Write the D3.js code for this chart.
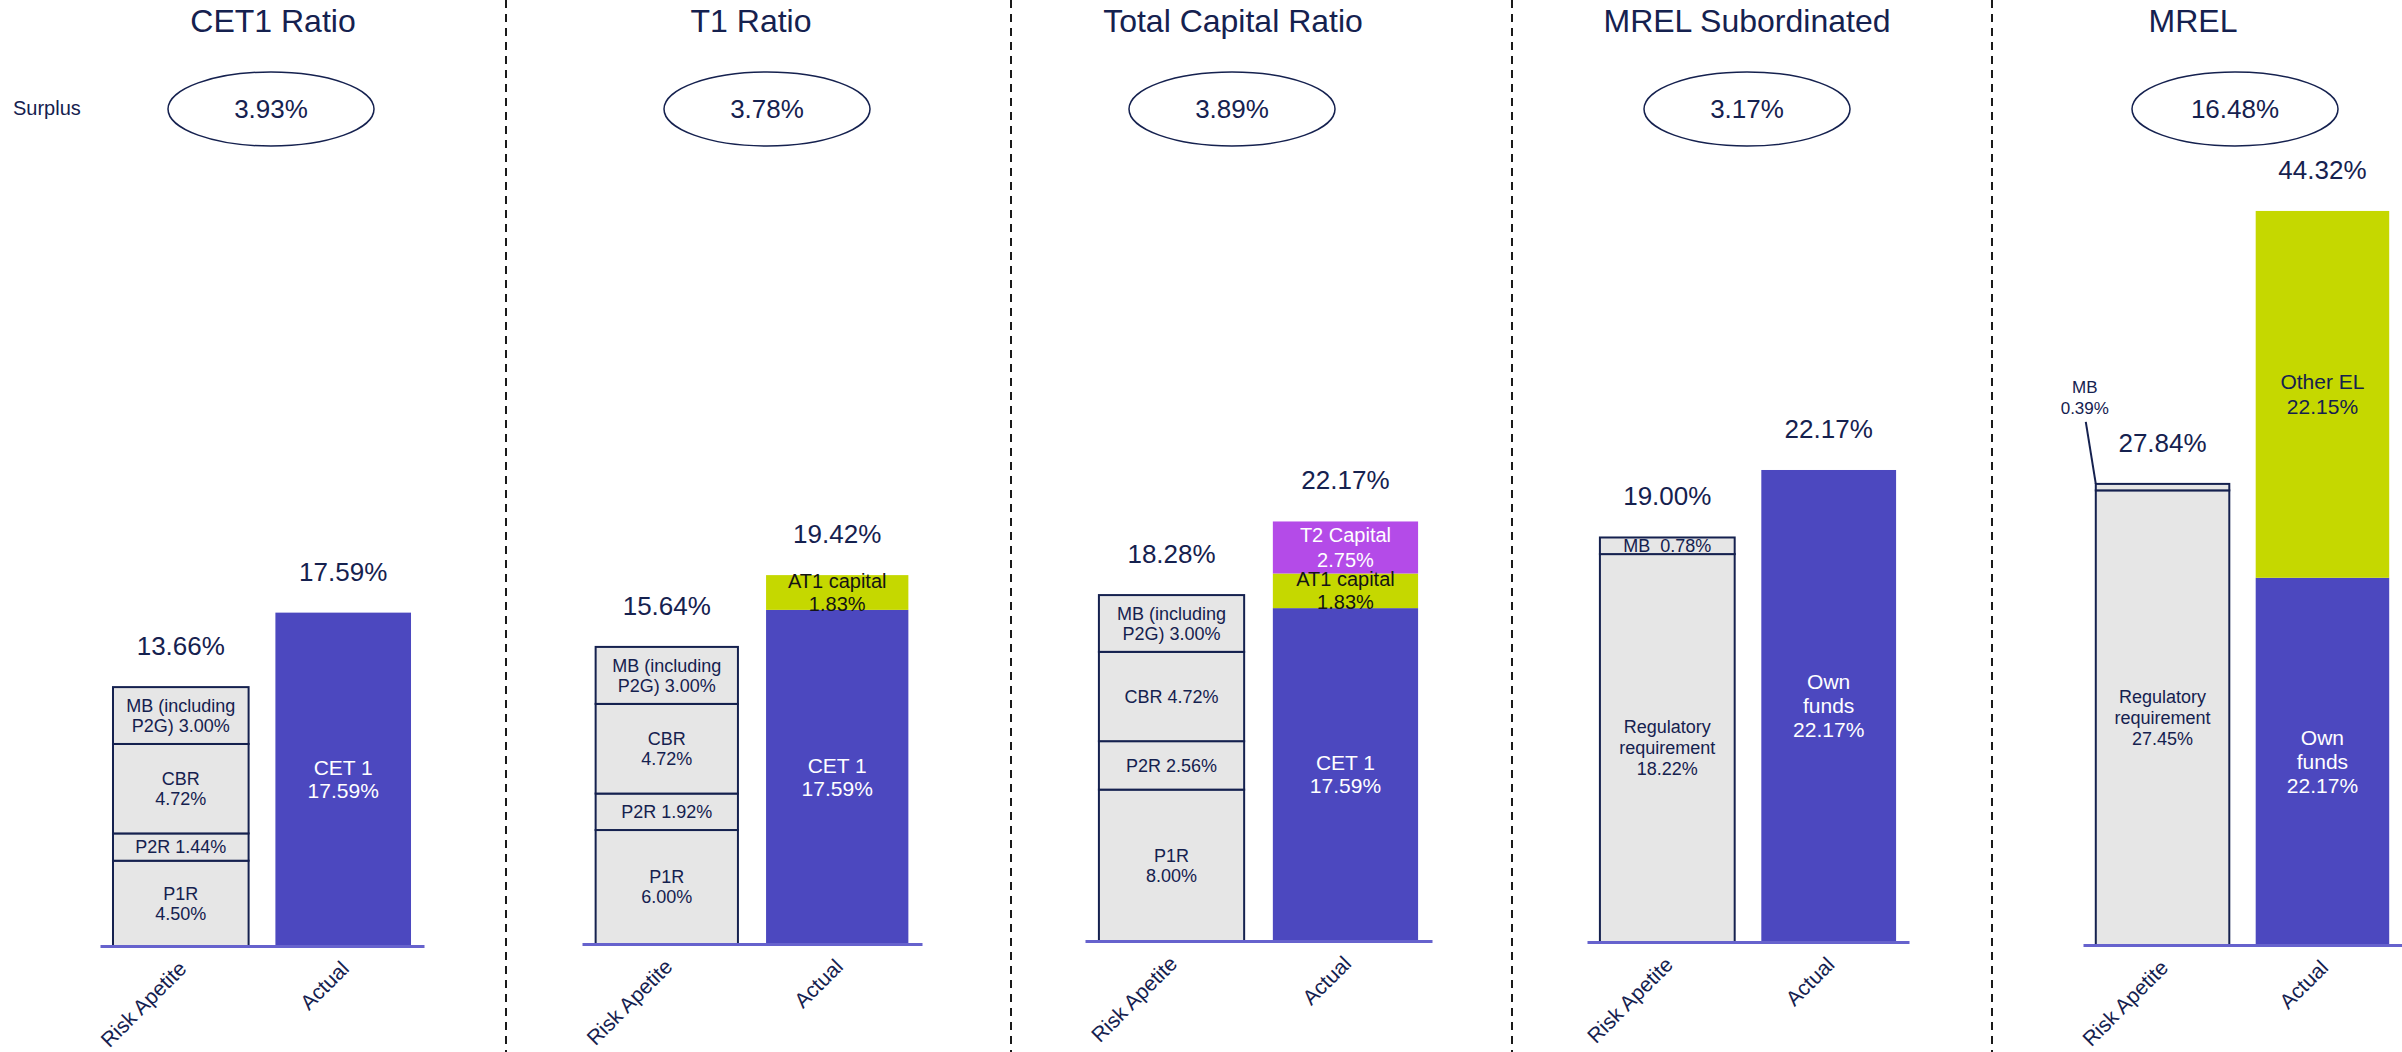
<!DOCTYPE html>
<html>
<head>
<meta charset="utf-8">
<script src="https://cdn.jsdelivr.net/npm/d3@7"></script>
<style>
  html, body { margin: 0; padding: 0; background: #fff; }
  svg { display: block; font-family: "Liberation Sans", Arial, sans-serif; }
</style>
</head>
<body>
<svg id="chart" width="2402" height="1052"></svg>
<script>
// ---- data -------------------------------------------------------------
const panelTitles = ["CET1 Ratio", "T1 Ratio", "Total Capital Ratio", "MREL Subordinated", "MREL"];
const surplus = [3.93, 3.78, 3.89, 3.17, 16.48];
const barNames = ["Risk Apetite", "Actual"];

// Requirement stacks (bottom to top); "{v}" is replaced by the segment value
const riskSegments = [
  [{ key: "P1R", value: 4.50, lines: ["P1R", "{v}"] },
   { key: "P2R", value: 1.44, lines: ["P2R {v}"] },
   { key: "CBR", value: 4.72, lines: ["CBR", "{v}"] },
   { key: "MB",  value: 3.00, lines: ["MB (including", "P2G) {v}"] }],
  [{ key: "P1R", value: 6.00, lines: ["P1R", "{v}"] },
   { key: "P2R", value: 1.92, lines: ["P2R {v}"] },
   { key: "CBR", value: 4.72, lines: ["CBR", "{v}"] },
   { key: "MB",  value: 3.00, lines: ["MB (including", "P2G) {v}"] }],
  [{ key: "P1R", value: 8.00, lines: ["P1R", "{v}"] },
   { key: "P2R", value: 2.56, lines: ["P2R {v}"] },
   { key: "CBR", value: 4.72, lines: ["CBR {v}"] },
   { key: "MB",  value: 3.00, lines: ["MB (including", "P2G) {v}"] }],
  [{ key: "REG", value: 18.22, lines: ["Regulatory", "requirement", "{v}"] },
   { key: "MBs", value: 0.78, lines: ["MB  {v}"] }],
  [{ key: "REG", value: 27.45, lines: ["Regulatory", "requirement", "{v}"] },
   { key: "MBc", value: 0.39, lines: [], callout: ["MB", "{v}"] }]
];

// Available capital stacks (bottom to top)
const actualSegments = [
  [{ key: "CET1", value: 17.59, lines: ["CET 1", "{v}"] }],
  [{ key: "CET1", value: 17.59, lines: ["CET 1", "{v}"] },
   { key: "AT1",  value: 1.83,  lines: ["AT1 capital", "{v}"] }],
  [{ key: "CET1", value: 17.59, lines: ["CET 1", "{v}"] },
   { key: "AT1",  value: 1.83,  lines: ["AT1 capital", "{v}"] },
   { key: "T2",   value: 2.75,  lines: ["T2 Capital", "{v}"] }],
  [{ key: "OWN",  value: 22.17, lines: ["Own", "funds", "{v}"] }],
  [{ key: "OWN",  value: 22.17, lines: ["Own", "funds", "{v}"] },
   { key: "OEL",  value: 22.15, lines: ["Other EL", "{v}"] }]
];

// ---- layout ------------------------------------------------------------
const layout = [
  { titleX: 273,  ellipseX: 271,  axis: [100, 424],   base: 946, yMax: 42.0 },
  { titleX: 751,  ellipseX: 767,  axis: [582, 922],   base: 944, yMax: 41.8 },
  { titleX: 1233, ellipseX: 1232, axis: [1085, 1432], base: 941, yMax: 41.8 },
  { titleX: 1747, ellipseX: 1747, axis: [1587, 1909], base: 942, yMax: 37.2 },
  { titleX: 2193, ellipseX: 2235, axis: [2083, 2402], base: 945, yMax: 48.0 }
];
const separators = [506, 1011, 1512, 1992];
const plotTop = 150;

const navy = "#15214f";
const segStyle = {
  P1R:  { fill: "#e6e6e6", stroke: navy, text: navy, size: 18, lh: 20 },
  P2R:  { fill: "#e6e6e6", stroke: navy, text: navy, size: 18, lh: 20 },
  CBR:  { fill: "#e6e6e6", stroke: navy, text: navy, size: 18, lh: 20 },
  MB:   { fill: "#e6e6e6", stroke: navy, text: navy, size: 18, lh: 20 },
  REG:  { fill: "#e6e6e6", stroke: navy, text: navy, size: 18, lh: 21 },
  MBs:  { fill: "#e6e6e6", stroke: navy, text: navy, size: 18, lh: 20 },
  MBc:  { fill: "#e6e6e6", stroke: navy, text: navy, size: 17, lh: 21 },
  CET1: { fill: "#4c48bf", stroke: "none", text: "#ffffff", size: 21, lh: 23 },
  OWN:  { fill: "#4c48bf", stroke: "none", text: "#ffffff", size: 21, lh: 24 },
  AT1:  { fill: "#c5d800", stroke: "none", text: "#141414", size: 20, lh: 23 },
  T2:   { fill: "#b44be8", stroke: "none", text: "#ffffff", size: 20, lh: 25 },
  OEL:  { fill: "#c5d800", stroke: "none", text: navy, size: 21, lh: 25 }
};
const fmt = v => v.toFixed(2) + "%";

const svg = d3.select("#chart");

// dashed separators between panels
svg.selectAll("line.sep").data(separators).join("line")
  .attr("class", "sep")
  .attr("x1", d => d).attr("x2", d => d)
  .attr("y1", 0).attr("y2", 1052)
  .attr("stroke", "#1a1a1a").attr("stroke-width", 2)
  .attr("stroke-dasharray", "8,6");

svg.append("text")
  .attr("x", 13).attr("y", 115)
  .attr("font-size", 20).attr("fill", navy)
  .text("Surplus");

layout.forEach((L, i) => {
  const g = svg.append("g");

  const x = d3.scaleBand().domain(barNames).range(L.axis)
    .paddingInner(0.165).paddingOuter(0.08);
  const y = d3.scaleLinear().domain([0, L.yMax]).range([L.base, plotTop]);

  // title
  g.append("text")
    .attr("x", L.titleX).attr("y", 32)
    .attr("text-anchor", "middle")
    .attr("font-size", 32).attr("fill", navy)
    .text(panelTitles[i]);

  // surplus bubble
  g.append("ellipse")
    .attr("cx", L.ellipseX).attr("cy", 109)
    .attr("rx", 103).attr("ry", 37)
    .attr("fill", "none").attr("stroke", navy).attr("stroke-width", 1.5);
  g.append("text")
    .attr("x", L.ellipseX).attr("y", 118)
    .attr("text-anchor", "middle")
    .attr("font-size", 26).attr("fill", navy)
    .text(fmt(surplus[i]));

  const stacks = [riskSegments[i], actualSegments[i]];
  stacks.forEach((segs, b) => {
    const name = barNames[b];
    let acc = 0;
    const rows = segs.map(s => {
      const r = Object.assign({}, s, { y0: acc, y1: acc + s.value });
      acc += s.value;
      return r;
    });
    const total = acc;
    const bx = x(name), bw = x.bandwidth();
    const bg = g.append("g");

    bg.selectAll("rect").data(rows).join("rect")
      .attr("x", bx).attr("width", bw)
      .attr("y", d => y(d.y1))
      .attr("height", d => y(d.y0) - y(d.y1))
      .attr("fill", d => segStyle[d.key].fill)
      .attr("stroke", d => segStyle[d.key].stroke)
      .attr("stroke-width", 2);

    // labels inside segments
    rows.forEach(d => {
      const st = segStyle[d.key];
      if (!d.lines.length) return;
      const mid = (y(d.y0) + y(d.y1)) / 2;
      const n = d.lines.length;
      const first = mid - (n - 1) * st.lh / 2 + 0.35 * st.size;
      bg.append("text")
        .attr("text-anchor", "middle")
        .attr("font-size", st.size).attr("fill", st.text)
        .style("white-space", "pre")
        .selectAll("tspan").data(d.lines).join("tspan")
        .attr("x", bx + bw / 2)
        .attr("y", (t, k) => first + k * st.lh)
        .text(t => t.replace("{v}", fmt(d.value)));
    });

    // callout for thin segments
    rows.filter(d => d.callout).forEach(d => {
      const st = segStyle[d.key];
      const ty = y(d.y1);
      bg.append("line")
        .attr("x1", bx - 10).attr("y1", ty - 62)
        .attr("x2", bx).attr("y2", ty)
        .attr("stroke", navy).attr("stroke-width", 2);
      bg.append("text")
        .attr("text-anchor", "middle")
        .attr("font-size", st.size).attr("fill", navy)
        .selectAll("tspan").data(d.callout).join("tspan")
        .attr("x", bx - 11)
        .attr("y", (t, k) => ty - 91 + k * st.lh)
        .text(t => t.replace("{v}", fmt(d.value)));
    });

    // total above the bar
    g.append("text")
      .attr("x", bx + bw / 2).attr("y", y(total) - 32)
      .attr("text-anchor", "middle")
      .attr("font-size", 26).attr("fill", navy)
      .text(fmt(total));
  });

  // category axis
  const ax = g.append("g")
    .attr("transform", `translate(0,${L.base})`)
    .call(d3.axisBottom(x).tickSizeInner(0).tickSizeOuter(0));
  ax.select(".domain").attr("stroke", "#6662cd").attr("stroke-width", 3);
  ax.selectAll(".tick line").remove();
  ax.selectAll(".tick text")
    .attr("x", 0).attr("y", 0).attr("dy", 0)
    .attr("transform", "translate(7,24) rotate(-45)")
    .attr("text-anchor", "end")
    .attr("font-size", 21)
    .attr("font-family", "\"Liberation Sans\", Arial, sans-serif")
    .attr("fill", navy);
});
</script>
</body>
</html>
